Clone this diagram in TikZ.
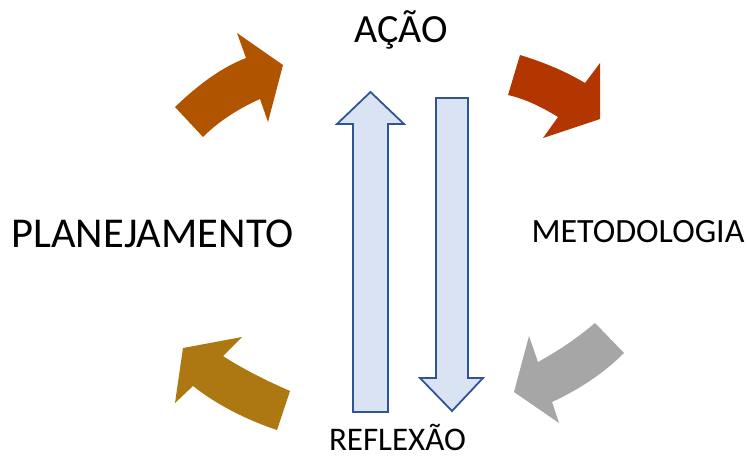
\documentclass[tikz,border=0pt]{standalone}
\usepackage{fontspec}
\setmainfont{Carlito}
\usepackage{tikz}

\definecolor{laranja}{HTML}{B05400}
\definecolor{vermelho}{HTML}{B33600}
\definecolor{cinza}{HTML}{A6A6A6}
\definecolor{ouro}{HTML}{AD7811}
\definecolor{azulclaro}{HTML}{DAE3F3}
\definecolor{azul}{HTML}{2F5597}

\begin{document}
\begin{tikzpicture}[x=1pt, y=-1pt, thick,
  lbl/.style = {anchor=base, inner sep=0pt},
  seta/.style = {draw=none},
  vert/.style = {draw=azul, fill=azulclaro, line width=1.8pt, line join=miter}]
\useasboundingbox (0,0) rectangle (747,459);
\node[lbl, font=\fontsize{40}{48}\selectfont] (acao) at (401,42) {AÇÃO};
\node[lbl, font=\fontsize{42.5}{50}\selectfont] (plan) at (152.5,247) {PLANEJAMENTO};
\node[lbl, font=\fontsize{34}{40}\selectfont] (metod) at (638,242) {METODOLOGIA};
\node[lbl, font=\fontsize{33}{40}\selectfont] (reflex) at (397.5,450) {REFLEXÃO};
% setas curvas
\fill[seta, laranja] (175,107) .. controls (197,86) and (220,68) .. (246,58) -- (237,33) -- (283,65)
  -- (268,122) -- (260,99) .. controls (240,108) and (220,120) .. (203,137) -- cycle;
\fill[seta, vermelho] (520,55) .. controls (543,62) and (565,71) .. (585,83) -- (600,63) -- (600,119)
  -- (543,138) -- (558,117) .. controls (540,106) and (525,99) .. (508,95) -- cycle;
\fill[seta, cinza] (595,323) .. controls (575,340) and (556,352) .. (538,362) -- (529,336) -- (514,392)
  -- (559,423) -- (552,402) .. controls (578,390) and (603,374) .. (624,353) -- cycle;
\fill[seta, ouro] (290,391) .. controls (265,380) and (243,369) .. (223,356) -- (242,337) -- (183,348)
  -- (175,403) -- (193,386) .. controls (217,405) and (247,420) .. (277,430) -- cycle;
% setas verticais
\draw[vert] (353,412) -- (353,124) -- (337,124) -- (370.5,92) -- (404,124) -- (388,124) -- (388,412) -- cycle;
\draw[vert] (436,98) -- (468,98) -- (468,378) -- (483,378) -- (452,411) -- (420,378) -- (436,378) -- cycle;
\end{tikzpicture}
\end{document}
